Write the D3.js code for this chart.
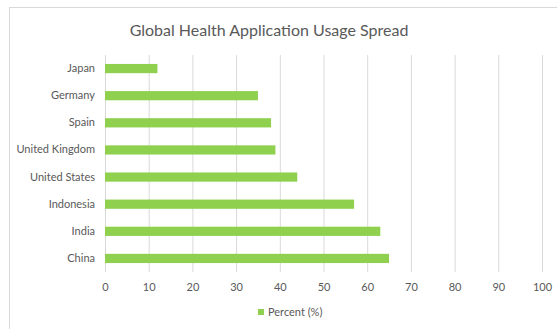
<!DOCTYPE html>
<html>
<head>
<meta charset="utf-8">
<script src="https://cdn.jsdelivr.net/npm/d3@7"></script>
<style>
  body { margin: 0; background: #fff; }
  text { font-family: Lato, "Open Sans", sans-serif; fill: #595959; }
</style>
</head>
<body>
<div id="chart"></div>
<script>
const countries = ["Japan", "Germany", "Spain", "United Kingdom", "United States", "Indonesia", "India", "China"];
const percent = [12, 35, 38, 39, 44, 57, 63, 65];
const xTicks = [0, 10, 20, 30, 40, 50, 60, 70, 80, 90, 100];
const seriesName = "Percent (%)";
const title = "Global Health Application Usage Spread";

const W = 557, H = 329;
const margin = { top: 55, right: 15, bottom: 57, left: 105 };
const plotH = 217;

const svg = d3.select("#chart").append("svg")
  .attr("width", W).attr("height", H);

// chart frame
svg.append("rect")
  .attr("x", 9.5).attr("y", 7.5)
  .attr("width", 560).attr("height", 330)
  .attr("fill", "none").attr("stroke", "#d9d9d9");

svg.append("text")
  .attr("x", 269).attr("y", 36)
  .attr("text-anchor", "middle")
  .style("font-size", "16px")
  .text(title);

const g = svg.append("g")
  .attr("transform", "translate(" + margin.left + "," + margin.top + ")");

const x = d3.scaleLinear().domain([0, 100]).range([0, 437]);
const y = d3.scaleBand().domain(countries).range([0, plotH])
  .paddingInner(0.66).paddingOuter(0.33);

// gridlines
g.append("g")
  .selectAll("line").data(xTicks).join("line")
  .attr("x1", d => x(d) + 0.5).attr("x2", d => x(d) + 0.5)
  .attr("y1", 0).attr("y2", plotH)
  .attr("stroke", "#d9d9d9").attr("stroke-width", 1);

g.selectAll("rect.bar").data(countries).join("rect")
  .attr("class", "bar")
  .attr("x", x(0))
  .attr("y", d => y(d))
  .attr("width", (d, i) => x(percent[i]) - x(0))
  .attr("height", y.bandwidth())
  .attr("fill", "#8fd14f");

const xAxis = g.append("g")
  .attr("transform", "translate(0," + plotH + ")")
  .call(d3.axisBottom(x).tickValues(xTicks).tickSize(0).tickPadding(11));
xAxis.select(".domain").remove();
xAxis.selectAll("text").style("font-size", "11px").attr("fill", "#595959");

const yAxis = g.append("g")
  .call(d3.axisLeft(y).tickSize(0).tickPadding(10));
yAxis.select(".domain").remove();
yAxis.selectAll("text").style("font-size", "11px").attr("fill", "#595959");

// legend
const legend = svg.append("g").attr("transform", "translate(258,309)");
legend.append("rect").attr("width", 6).attr("height", 6).attr("fill", "#8fd14f");
legend.append("text").attr("x", 10).attr("y", 3).attr("dy", "0.35em")
  .style("font-size", "11px").text(seriesName);
</script>
</body>
</html>
